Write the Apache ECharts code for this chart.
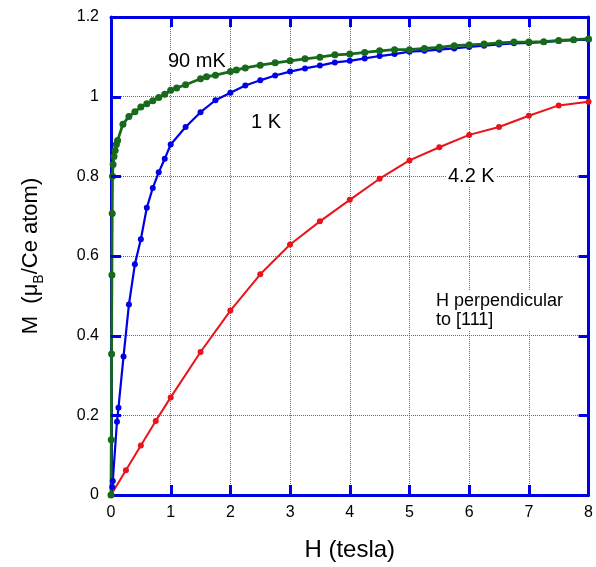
<!DOCTYPE html>
<html>
<head>
<meta charset="utf-8">
<script src="https://cdn.jsdelivr.net/npm/echarts@6/dist/echarts.min.js"></script>
<style>
html,body{margin:0;padding:0;background:#fff;}
#chart{width:596px;height:567px;}
</style>
</head>
<body>
<div id="chart"></div>
<script>
// ---- Data ----
const xTicks = [0, 1, 2, 3, 4, 5, 6, 7, 8];
const yTicks = [0, 0.2, 0.4, 0.6, 0.8, 1.0, 1.2];
const yTickLabels = ['0', '0.2', '0.4', '0.6', '0.8', '1', '1.2'];

// 90 mK
const H_90mK = [0, 0.005, 0.01, 0.015, 0.02, 0.025, 0.035, 0.05, 0.07, 0.09, 0.11,
  0.2, 0.3, 0.4, 0.5, 0.6, 0.7, 0.8, 0.9, 1.0, 1.1, 1.25, 1.5, 1.6, 1.75,
  2.0, 2.1, 2.25, 2.5, 2.75, 3.0, 3.25, 3.5, 3.75, 4.0, 4.25, 4.5, 4.75,
  5.0, 5.25, 5.5, 5.75, 6.0, 6.25, 6.5, 6.75, 7.0, 7.25, 7.5, 7.75, 8.0];
const M_90mK = [0, 0.139, 0.354, 0.552, 0.707, 0.80, 0.83, 0.85, 0.865, 0.88, 0.89,
  0.931, 0.950, 0.962, 0.974, 0.982, 0.990, 0.998, 1.006, 1.016, 1.022, 1.030, 1.045, 1.050, 1.054,
  1.063, 1.067, 1.072, 1.079, 1.085, 1.090, 1.095, 1.099, 1.105, 1.107, 1.111, 1.115, 1.118,
  1.118, 1.121, 1.124, 1.128, 1.130, 1.132, 1.135, 1.137, 1.137, 1.138, 1.141, 1.143, 1.145];

// 1 K
const H_1K = [0, 0.02, 0.03, 0.1, 0.125, 0.21, 0.3, 0.4, 0.5, 0.6, 0.7, 0.8, 0.9, 1.0,
  1.25, 1.5, 1.75, 2.0, 2.25, 2.5, 2.75, 3.0, 3.25, 3.5, 3.75, 4.0, 4.25, 4.5, 4.75,
  5.0, 5.25, 5.5, 5.75, 6.0, 6.25, 6.5, 6.75, 7.0, 7.25, 7.5, 7.75, 8.0];
const M_1K = [0, 0.02, 0.035, 0.184, 0.219, 0.348, 0.478, 0.579, 0.642, 0.721, 0.771, 0.810, 0.844, 0.880,
  0.924, 0.961, 0.991, 1.010, 1.028, 1.041, 1.053, 1.063, 1.071, 1.078, 1.086, 1.090, 1.096, 1.102, 1.107,
  1.113, 1.115, 1.118, 1.121, 1.125, 1.128, 1.131, 1.134, 1.135, 1.137, 1.140, 1.142, 1.143];

// 4.2 K
const H_42K = [0, 0.25, 0.5, 0.75, 1.0, 1.5, 2.0, 2.5, 3.0, 3.5, 4.0, 4.5, 5.0, 5.5, 6.0, 6.5, 7.0, 7.5, 8.0];
const M_42K = [0, 0.062, 0.124, 0.186, 0.245, 0.359, 0.463, 0.554, 0.629, 0.687, 0.741, 0.794,
  0.840, 0.873, 0.904, 0.924, 0.952, 0.978, 0.987];

function zip(xs, ys) { return xs.map((x, i) => [x, ys[i]]); }

const BLUE = '#0000e6';
const GREEN = '#17691c';
const RED = '#e8141a';
const GRID = '#3d3dff';
const FONT = '"Liberation Sans", Arial, Helvetica, sans-serif';

const chart = echarts.init(document.getElementById('chart'), null, { renderer: 'canvas' });

function axisLineStyle(onZero) { return { show: true, onZero: onZero, lineStyle: { color: BLUE, width: 3 } }; }
function splitStyle() { return { show: true, lineStyle: { color: GRID, width: 1, type: [1, 1], opacity: 0.85 } }; }

function seriesOf(name, data, color, lw, sym) {
  return {
    name: name, type: 'line', data: data, xAxisIndex: 0, yAxisIndex: 0,
    symbol: 'circle', symbolSize: sym, showSymbol: true,
    lineStyle: { color: color, width: lw },
    itemStyle: { color: color },
    emphasis: { disabled: true },
    animation: false, z: 3
  };
}

// Tick marks drawn inside the frame on all four sides, positioned through the axes' scales
const TICK_LEN = 10;
const TICK_W = 3;
function tickSeries() {
  return {
    type: 'custom', xAxisIndex: 0, yAxisIndex: 0, silent: true, z: 10, clip: false,
    data: [[0, 0]],
    renderItem: function (params, api) {
      const children = [];
      const y0 = api.coord([0, yTicks[0]])[1];
      const y1 = api.coord([0, yTicks[yTicks.length - 1]])[1];
      const x0 = api.coord([xTicks[0], 0])[0];
      const x1 = api.coord([xTicks[xTicks.length - 1], 0])[0];
      const st = { fill: BLUE };
      xTicks.slice(1, -1).forEach(function (v) {
        const x = Math.round(api.coord([v, 0])[0]);
        children.push({ type: 'rect', shape: { x: x - 1, y: y0 - TICK_LEN, width: TICK_W, height: TICK_LEN }, style: st, z2: 50 });
        children.push({ type: 'rect', shape: { x: x - 1, y: y1, width: TICK_W, height: TICK_LEN }, style: st, z2: 50 });
      });
      yTicks.slice(1, -1).forEach(function (v) {
        const y = Math.round(api.coord([0, v])[1]);
        children.push({ type: 'rect', shape: { x: x0, y: y - 1, width: TICK_LEN, height: TICK_W }, style: st, z2: 50 });
        children.push({ type: 'rect', shape: { x: x1 - TICK_LEN, y: y - 1, width: TICK_LEN, height: TICK_W }, style: st, z2: 50 });
      });
      return { type: 'group', children: children };
    }
  };
}

const option = {
  animation: false,
  backgroundColor: '#fff',
  textStyle: { fontFamily: FONT },
  grid: { left: 111, right: 4, top: 17, bottom: 68, containLabel: false },
  xAxis: [
    {
      type: 'value', min: xTicks[0], max: xTicks[xTicks.length - 1], interval: 1, position: 'bottom',
      axisLine: axisLineStyle(true), axisTick: { show: false }, splitLine: splitStyle(),
      axisLabel: { color: '#000', fontSize: 16, margin: 10, fontFamily: FONT },
      name: 'H (tesla)', nameLocation: 'middle', nameGap: 43,
      nameTextStyle: { color: '#000', fontSize: 24, fontFamily: FONT }
    },
    {
      type: 'value', min: xTicks[0], max: xTicks[xTicks.length - 1], interval: 1, position: 'top',
      axisLine: axisLineStyle(false), axisTick: { show: false }, splitLine: { show: false },
      axisLabel: { show: false }
    }
  ],
  yAxis: [
    {
      type: 'value', min: yTicks[0], max: yTicks[yTicks.length - 1], interval: 0.2, position: 'left',
      axisLine: axisLineStyle(true), axisTick: { show: false }, splitLine: splitStyle(),
      axisLabel: {
        color: '#000', fontSize: 16, margin: 12, fontFamily: FONT,
        formatter: function (v) { return yTickLabels[Math.round(v / 0.2)]; }
      },
      name: '{a|M  (μ}{b|B}{a|/Ce atom)}', nameLocation: 'middle', nameGap: 65, nameRotate: 90,
      nameTextStyle: {
        color: '#000', fontFamily: FONT,
        rich: {
          a: { fontSize: 22, lineHeight: 30, verticalAlign: 'middle', fontFamily: FONT, color: '#000' },
          b: { fontSize: 14, lineHeight: 14, verticalAlign: 'bottom', fontFamily: FONT, color: '#000' }
        }
      }
    },
    {
      type: 'value', min: yTicks[0], max: yTicks[yTicks.length - 1], interval: 0.2, position: 'right',
      axisLine: axisLineStyle(false), axisTick: { show: false }, splitLine: { show: false },
      axisLabel: { show: false }
    }
  ],
  series: [
    tickSeries(),
    seriesOf('4.2 K', zip(H_42K, M_42K), RED, 2, 6),
    seriesOf('1 K', zip(H_1K, M_1K), BLUE, 2.2, 6),
    seriesOf('90 mK', zip(H_90mK, M_90mK), GREEN, 2.8, 7)
  ],
  graphic: [
    { type: 'text', left: 166, top: 50, z: 2,
      style: { text: '90 mK', fontSize: 20, fontFamily: FONT, fill: '#000', backgroundColor: '#fff', padding: [1, 2] } },
    { type: 'text', left: 249, top: 111, z: 2,
      style: { text: '1 K', fontSize: 20, fontFamily: FONT, fill: '#000', backgroundColor: '#fff', padding: [1, 2] } },
    { type: 'text', left: 446, top: 165, z: 2,
      style: { text: '4.2 K', fontSize: 20, fontFamily: FONT, fill: '#000', backgroundColor: '#fff', padding: [1, 2] } },
    { type: 'text', left: 434, top: 291, z: 2,
      style: { text: 'H perpendicular\nto [111]', fontSize: 18, lineHeight: 19, fontFamily: FONT, fill: '#000', backgroundColor: '#fff', padding: [1, 2] } }
  ]
};

chart.setOption(option);
</script>
</body>
</html>
